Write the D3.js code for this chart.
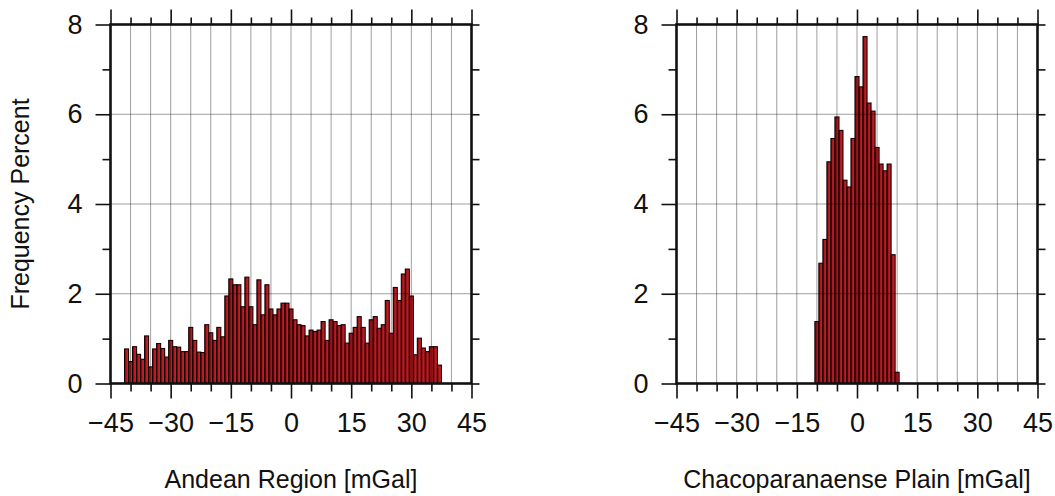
<!DOCTYPE html>
<html>
<head>
<meta charset="utf-8">
<script src="https://cdn.jsdelivr.net/npm/d3@7"></script>
<style>
  body { margin: 0; background: #fff; }
  svg text { font-family: "Liberation Sans", Arial, Helvetica, sans-serif; fill: #111; }
</style>
</head>
<body>
<div id="chart"></div>
<script>
// bin centers are whole mGal, 1 mGal wide
var andeanBins = d3.range(-41, 38);
var andeanFreq = [
  0.77, 0.49, 0.82, 0.65, 0.54, 1.06, 0.37, 0.77, 0.89, 0.78,
  0.59, 0.96, 0.82, 0.81, 0.71, 0.71, 1.25, 0.96, 0.70, 0.69,
  1.31, 1.13, 0.96, 1.25, 1.04, 1.95, 2.33, 2.20, 2.20, 1.71,
  2.37, 1.71, 1.31, 2.31, 1.53, 2.20, 1.66, 1.53, 1.66, 1.79,
  1.79, 1.66, 1.42, 1.31, 1.29, 1.06, 1.19, 1.16, 1.19, 1.38,
  0.96, 1.42, 1.38, 1.29, 1.31, 0.90, 1.12, 1.25, 1.49, 1.25,
  0.90, 1.42, 1.49, 1.23, 1.31, 1.85, 1.12, 2.14, 1.85, 2.44,
  2.55, 1.95, 0.64, 1.01, 0.79, 0.71, 0.82, 0.82, 0.41
];
var chacoBins = d3.range(-10, 11);
var chacoFreq = [
  1.38, 2.68, 3.21, 4.94, 5.46, 5.94, 5.64, 4.53, 4.38, 5.46,
  6.84, 6.61, 7.73, 6.25, 6.07, 5.26, 4.89, 4.74, 4.89, 2.87, 0.25
];
var xTicks = d3.range(-45, 46, 5);
var yTicks = d3.range(0, 9, 1);
var panelTitles = ["Andean Region [mGal]", "Chacoparanaense Plain [mGal]"];

var svgWidth = 1055;
var svgHeight = 496;
var margin = { top: 24.5 };
var panelWidth = 361;
var panelHeight = 359;
var panelLeft = [110.5, 676.5];

var svg = d3.select("#chart")
  .append("svg")
  .attr("width", svgWidth)
  .attr("height", svgHeight);

// shaded red for the bars
var grad = svg.append("defs").append("linearGradient")
  .attr("id", "barFill")
  .attr("x1", "0%").attr("x2", "100%");
grad.append("stop").attr("offset", "0%").attr("stop-color", "#5e0a0d");
grad.append("stop").attr("offset", "45%").attr("stop-color", "#b8181f");
grad.append("stop").attr("offset", "100%").attr("stop-color", "#d4222a");

var xScale = d3.scaleLinear().domain([-45, 45]).range([0, panelWidth]);
var yScale = d3.scaleLinear().domain([0, 8]).range([panelHeight, 0]);

function drawPanel(i, bins, freq) {
  var g = svg.append("g")
    .attr("transform", `translate(${panelLeft[i]}, ${margin.top})`);

  var data = bins.map(function(b, k) { return { bin: b, freq: freq[k] }; });

  g.selectAll("rect.bar")
    .data(data)
    .enter()
    .append("rect")
    .attr("class", "bar")
    .attr("x", d => xScale(d.bin - 0.5))
    .attr("width", d => xScale(d.bin + 0.5) - xScale(d.bin - 0.5))
    .attr("y", d => yScale(d.freq))
    .attr("height", d => yScale(0) - yScale(d.freq))
    .attr("fill", "url(#barFill)")
    .attr("stroke", "#120000")
    .attr("stroke-width", 1.1);

  // grid on top, semi-transparent so it darkens the bars
  g.selectAll("line.vgrid")
    .data(xTicks.filter(d => d > -45 && d < 45))
    .enter()
    .append("line")
    .attr("x1", d => xScale(d)).attr("x2", d => xScale(d))
    .attr("y1", 0).attr("y2", panelHeight)
    .attr("stroke", "#000").attr("stroke-opacity", 0.38);

  g.selectAll("line.hgrid")
    .data([2, 4, 6])
    .enter()
    .append("line")
    .attr("x1", 0).attr("x2", panelWidth)
    .attr("y1", d => yScale(d)).attr("y2", d => yScale(d))
    .attr("stroke", "#000").attr("stroke-opacity", 0.38);

  var fmt = d3.format("d");

  var bottom = g.append("g")
    .attr("transform", `translate(0, ${panelHeight})`)
    .call(d3.axisBottom(xScale).tickValues(xTicks).tickSize(8).tickPadding(21)
      .tickFormat(d => d % 15 === 0 ? fmt(d) : ""));

  var top = g.append("g")
    .call(d3.axisTop(xScale).tickValues(xTicks).tickSize(7).tickFormat(""));

  var left = g.append("g")
    .call(d3.axisLeft(yScale).tickValues(yTicks).tickSize(8).tickPadding(20)
      .tickFormat(d => d % 2 === 0 ? fmt(d) : ""));

  var right = g.append("g")
    .attr("transform", `translate(${panelWidth}, 0)`)
    .call(d3.axisRight(yScale).tickValues(yTicks).tickSize(8).tickFormat(""));

  [bottom, top, left, right].forEach(function(ax) {
    ax.select(".domain").remove();
    ax.selectAll(".tick line").attr("stroke", "#111").attr("stroke-width", 1.6);
    ax.selectAll("text")
      .style("font-size", "27px")
      .style("font-family", "'Liberation Sans', Arial, Helvetica, sans-serif")
      .attr("fill", "#111");
  });

  // major ticks are longer
  bottom.selectAll(".tick line").filter(d => d % 15 === 0).attr("y2", 15);
  top.selectAll(".tick line").filter(d => d % 15 === 0).attr("y2", -15);
  left.selectAll(".tick line").filter(d => d % 2 === 0).attr("x2", -15);
  right.selectAll(".tick line").filter(d => d % 2 === 0).attr("x2", 8);

  g.append("rect")
    .attr("x", 0).attr("y", 0)
    .attr("width", panelWidth).attr("height", panelHeight)
    .attr("fill", "none")
    .attr("stroke", "#111")
    .attr("stroke-width", 2.6);

  g.append("text")
    .attr("x", panelWidth / 2)
    .attr("y", panelHeight + 104)
    .attr("text-anchor", "middle")
    .style("font-size", "25px")
    .text(panelTitles[i]);
}

drawPanel(0, andeanBins, andeanFreq);
drawPanel(1, chacoBins, chacoFreq);

svg.append("text")
  .attr("transform", "translate(29, 204) rotate(-90)")
  .attr("text-anchor", "middle")
  .style("font-size", "25px")
  .text("Frequency Percent");
</script>
</body>
</html>
